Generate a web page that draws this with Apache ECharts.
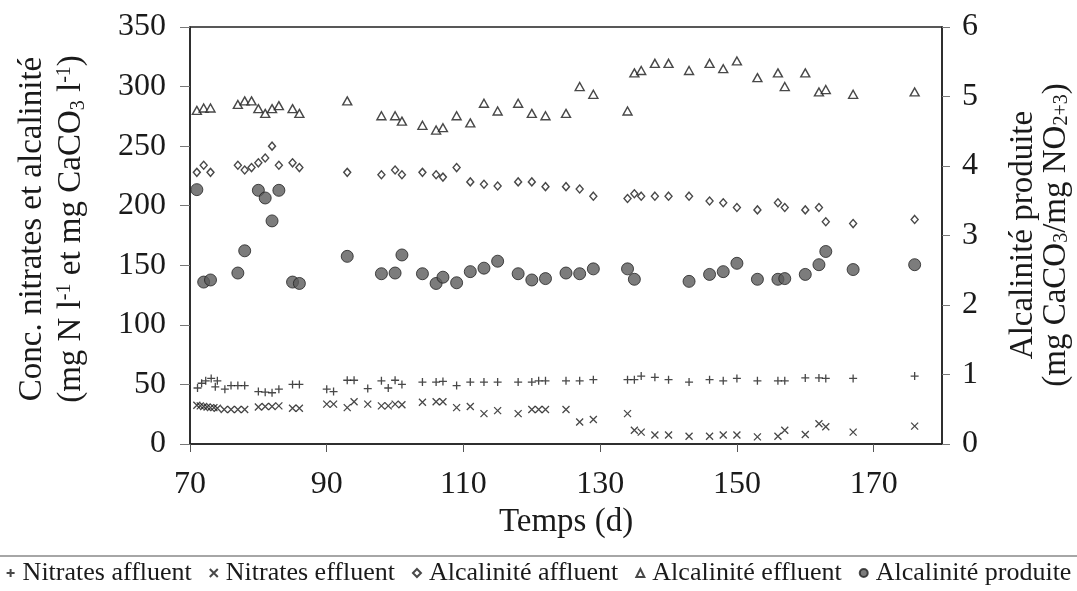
<!DOCTYPE html>
<html><head><meta charset="utf-8">
<script src="https://cdn.jsdelivr.net/npm/echarts@6/dist/echarts.min.js"></script>
<style>html,body{margin:0;padding:0;background:#fff}#c{width:1077px;height:591px}</style>
</head><body><div id="c"></div>
<script>
// ---- data ----
const xTicks = [70, 90, 110, 130, 150, 170];
const leftTicks = [0, 50, 100, 150, 200, 250, 300, 350];
const rightTicks = [0, 1, 2, 3, 4, 5, 6];

const naDays = [71.1,71.7,72.3,73.1,73.7,74,75.1,76,77,78,80,81,82,83,85,86,90,91,93,94,96,98,99,100,101,104,106,107,109,111,113,115,118,120,121,122,125,127,129,134,135,136,138,140,143,146,148,150,153,156,157,160,162,163,167,176];
const naVals = [47,51,53,55,48,53,46,49,49,49,44,43.5,43,46,50,50,46,44,53.5,53.5,46.5,53,47,53.5,50,52,52,52.5,49,52,52,52,52,52,53,53,53,53,54,54,54,57,56,54,52,54,53,55,53,53,53,55.5,55.5,55,55,57];

const neDays = [71,71.5,72,72.5,73,73.5,74,75,76,77,78,80,81,82,83,85,86,90,91,93,94,96,98,99,100,101,104,106,107,109,111,113,115,118,120,121,122,125,127,129,134,135,136,138,140,143,146,148,150,153,156,157,160,162,163,167,176];
const neVals = [32.5,32,31.5,31,30.5,30.5,30,29,29,29,29,31,31.5,31.5,32,30,30,33.5,33.5,30.5,35.5,33.5,32,32,33.5,33,35,35.5,35.5,30.5,31.5,25.5,28,25.5,29,29,29,29,18.5,20.5,25.5,11.5,10,7.5,7.5,6.5,6.5,7.5,7.5,6,6.5,11.5,8,17,14.5,10,15];

const aDays = [71,72,73,77,78,79,80,81,82,83,85,86,93,98,100,101,104,106,107,109,111,113,115,118,120,122,125,127,129,134,135,136,138,140,143,146,148,150,153,156,157,160,162,163,167,176];
const aaVals = [228,234,228,234,230,232,236,240,250,234,236,232,228,226,230,226,228,226,224,232,220,218,216.5,220,220,216,216,214,208,206,210,208,208,208,208,204,202.5,198.5,196.5,202.5,198.5,196.5,198.5,186.5,185,188.5];
const aeVals = [280,282,282,285,288,288,281.5,277.5,281.5,284,281.5,277.5,288,275.5,275.5,271,267.5,263.5,265.5,275.5,269.5,286,279.5,286,277.5,275.5,277.5,300,293.5,279.5,311.5,313.5,319.5,319.5,313.5,319.5,315,321.5,307.5,311.5,300,311.5,295.5,297.5,293.5,295.5];

const apDays = [71,72,73,77,78,80,81,82,83,85,86,93,98,100,101,104,106,107,109,111,113,115,118,120,122,125,127,129,134,135,143,146,148,150,153,156,157,160,162,163,167,176];
const apVals = [3.66,2.33,2.36,2.46,2.78,3.65,3.54,3.21,3.65,2.33,2.31,2.70,2.45,2.46,2.72,2.45,2.31,2.40,2.32,2.48,2.53,2.63,2.45,2.36,2.38,2.46,2.45,2.52,2.52,2.37,2.34,2.44,2.48,2.60,2.37,2.37,2.38,2.44,2.58,2.77,2.51,2.58];

const names = ['Nitrates affluent','Nitrates effluent','Alcalinité affluent','Alcalinité effluent','Alcalinité produite'];

// ---- chart ----
const pair = (d, v) => d.map((x, i) => [x, v[i]]);
const FONT = 'Liberation Serif';
const INK = '#1a1a1a';
const TICK_FS = 32, TITLE_FS = 33;
const chart = echarts.init(document.getElementById('c'), null, {renderer: 'canvas'});

const lineSym = {color: 'rgba(0,0,0,0)', borderColor: INK, borderWidth: 1.3};
const openSym = {color: '#fff', borderColor: INK, borderWidth: 1.4};

chart.setOption({
  animation: false,
  backgroundColor: '#fff',
  grid: {left: 190, right: 135, top: 27, bottom: 147, show: true, borderColor: '#222', borderWidth: 1.5, backgroundColor: 'transparent'},
  xAxis: {
    type: 'value', min: 70, max: 180, interval: 20,
    splitLine: {show: false},
    axisLine: {lineStyle: {color: '#222', width: 1.5}},
    axisTick: {length: 8, lineStyle: {color: '#555'}, customValues: xTicks},
    axisLabel: {fontFamily: FONT, fontSize: TICK_FS, color: INK, margin: 25, customValues: xTicks},
    name: 'Temps (d)', nameLocation: 'middle', nameGap: 61,
    nameTextStyle: {fontFamily: FONT, fontSize: TITLE_FS, color: INK}
  },
  yAxis: [{
    type: 'value', min: 0, max: 350, interval: 50,
    splitLine: {show: false},
    axisLine: {show: true, lineStyle: {color: '#222', width: 1.5}},
    axisTick: {show: true, length: 10, lineStyle: {color: '#777'}, customValues: leftTicks},
    axisLabel: {fontFamily: FONT, fontSize: TICK_FS, color: INK, margin: 24, customValues: leftTicks}
  }, {
    type: 'value', min: 0, max: 6, interval: 1, position: 'right',
    splitLine: {show: false},
    axisLine: {show: true, lineStyle: {color: '#222', width: 1.5}},
    axisTick: {show: true, length: 8, lineStyle: {color: '#777'}, customValues: rightTicks},
    axisLabel: {fontFamily: FONT, fontSize: TICK_FS, color: INK, margin: 20, customValues: rightTicks}
  }],
  legend: {
    top: 560, left: 'center', width: 1077, padding: 0, itemWidth: 8, itemHeight: 8, itemGap: 17,
    textStyle: {fontFamily: FONT, fontSize: 26, color: INK, padding: [0,0,0,3]},
    data: names
  },
  graphic: [
    {type: 'line', shape: {x1: 0, y1: 556, x2: 1077, y2: 556}, style: {stroke: '#888', lineWidth: 1.5}},
    {type: 'text', x: 52, y: 229, rotation: Math.PI/2,
      style: {text: '{m|Conc. nitrates et alcalinité}\n{m|(mg N l}{sup|-1}{m| et mg CaCO}{sub|3}{m| l}{sup|-1}{m|)}',
        align: 'center', verticalAlign: 'middle', fill: INK,
        rich: {m: {fontFamily: FONT, fontSize: TITLE_FS, lineHeight: 39, verticalAlign: 'middle'},
               sup: {fontFamily: FONT, fontSize: 20, lineHeight: 39, verticalAlign: 'top', padding: [3,0,0,0]},
               sub: {fontFamily: FONT, fontSize: 20, lineHeight: 39, verticalAlign: 'bottom', padding: [0,0,2,0]}}}},
    {type: 'text', x: 1040, y: 235, rotation: Math.PI/2,
      style: {text: '{m|Alcalinité produite}\n{m|(mg CaCO}{sub|3}{m|/mg NO}{sub|2+3}{m|)}',
        align: 'center', verticalAlign: 'middle', fill: INK,
        rich: {m: {fontFamily: FONT, fontSize: TITLE_FS, lineHeight: 33, verticalAlign: 'middle'},
               sub: {fontFamily: FONT, fontSize: 20, lineHeight: 33, verticalAlign: 'bottom', padding: [0,0,1,0]}}}}
  ],
  series: [
    {name: names[0], type: 'scatter', data: pair(naDays, naVals), symbol: 'path://M5,0L5,10M0,5L10,5', symbolSize: 8, itemStyle: lineSym},
    {name: names[1], type: 'scatter', data: pair(neDays, neVals), symbol: 'path://M0,0L10,10M10,0L0,10', symbolSize: 7, itemStyle: lineSym},
    {name: names[2], type: 'scatter', data: pair(aDays, aaVals), symbol: 'diamond', symbolSize: [7, 8], itemStyle: openSym},
    {name: names[3], type: 'scatter', data: pair(aDays, aeVals), symbol: 'triangle', symbolSize: [9, 8], itemStyle: openSym},
    {name: names[4], type: 'scatter', yAxisIndex: 1, data: pair(apDays, apVals), symbol: 'circle', symbolSize: 12, itemStyle: {color: '#5b5b5b', borderColor: '#222', borderWidth: 1}}
  ]
});
</script></body></html>
